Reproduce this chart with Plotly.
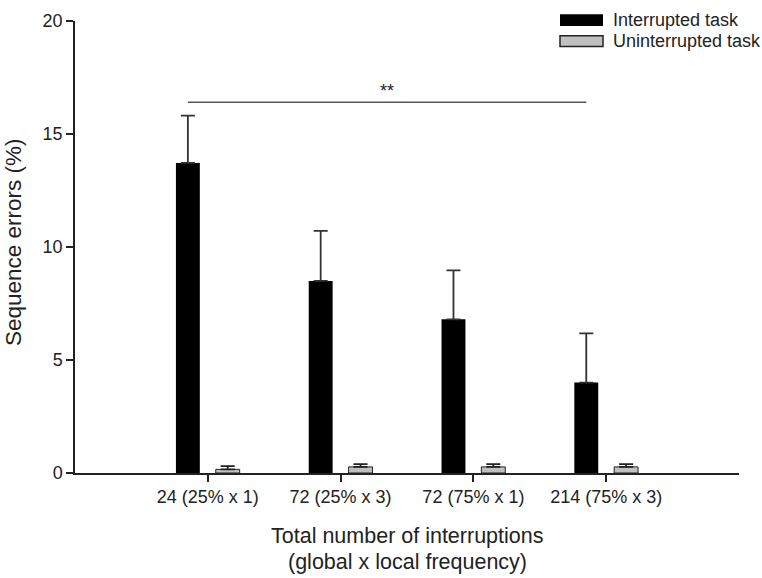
import plotly.graph_objects as go

# ---- data ----
categories = ["24 (25% x 1)", "72 (25% x 3)", "72 (75% x 1)", "214 (75% x 3)"]
interrupted = [13.72, 8.50, 6.80, 4.00]
interrupted_err = [2.09, 2.21, 2.17, 2.18]
uninterrupted = [0.16, 0.27, 0.27, 0.27]
uninterrupted_err = [0.14, 0.12, 0.12, 0.12]
series_names = ["Interrupted task", "Uninterrupted task"]
sig_pair = (0, 3)
sig_level = 16.4
sig_label = "**"

# ---- layout geometry ----
W, H = 762, 578
L, R, T, B = 75, 23, 11, 105
PW, PH = W - L - R, H - T - B
FONT = "Arial, Liberation Sans, sans-serif"

def px(x):
    return (x - L) / PW

def py(y):
    return (H - B - y) / PH

OFF = 0.15
BW = 0.18
idx = list(range(len(categories)))

fig = go.Figure()
fig.add_trace(go.Bar(
    x=[i - OFF for i in idx], y=interrupted, width=BW,
    name=series_names[0],
    marker=dict(color="black", line=dict(width=0)),
    error_y=dict(type="data", symmetric=False, array=interrupted_err,
                 arrayminus=[0] * len(idx), color="#333333",
                 thickness=1.8, width=7),
    showlegend=False,
))
fig.add_trace(go.Bar(
    x=[i + OFF for i in idx], y=uninterrupted, width=BW,
    name=series_names[1],
    marker=dict(color="#c0c0c0", line=dict(color="#222222", width=1)),
    error_y=dict(type="data", symmetric=False, array=uninterrupted_err,
                 arrayminus=[0] * len(idx), color="#222222",
                 thickness=1.8, width=7),
    showlegend=False,
))

# significance bracket
fig.add_shape(type="line", xref="x", yref="y",
              x0=sig_pair[0] - OFF, x1=sig_pair[1] - OFF,
              y0=sig_level, y1=sig_level,
              line=dict(color="#555555", width=1.5))
fig.add_annotation(x=((sig_pair[0] + sig_pair[1]) / 2) - OFF, y=sig_level,
                   xref="x", yref="y", text=sig_label, showarrow=False,
                   yanchor="bottom", yshift=-1,
                   font=dict(family=FONT, size=18, color="#222222"))

# custom legend
legend_rows = [(4, 16, "black", 0), (26, 37, "#c0c0c0", 1.5)]
for (y0, y1, col, lw), name in zip(legend_rows, series_names):
    fig.add_shape(type="rect", xref="paper", yref="paper",
                  x0=px(560), x1=px(603), y0=py(y1), y1=py(y0),
                  fillcolor=col, line=dict(color="#222222", width=lw))
    fig.add_annotation(xref="paper", yref="paper", x=px(611), y=py((y0 + y1) / 2),
                       text=name, showarrow=False, xanchor="left", yanchor="middle",
                       font=dict(family=FONT, size=18, color="#222222"))

# axis titles
fig.add_annotation(xref="paper", yref="paper", x=px(13), y=py(237),
                   text="Sequence errors (%)", textangle=-90, showarrow=False,
                   xanchor="center", yanchor="middle",
                   font=dict(family=FONT, size=22.5, color="#222222"))
fig.add_annotation(xref="paper", yref="paper", x=px(407), y=py(537),
                   text="Total number of interruptions", showarrow=False,
                   xanchor="center", yanchor="middle",
                   font=dict(family=FONT, size=21.5, color="#222222"))
fig.add_annotation(xref="paper", yref="paper", x=px(407), y=py(564),
                   text="(global x local frequency)", showarrow=False,
                   xanchor="center", yanchor="middle",
                   font=dict(family=FONT, size=21.5, color="#222222"))

fig.update_layout(
    width=W, height=H,
    margin=dict(l=L, r=R, t=T, b=B, pad=0),
    paper_bgcolor="white", plot_bgcolor="white",
    barmode="overlay",
    font=dict(family=FONT, size=18, color="#222222"),
    xaxis=dict(range=[-1, 4], tickvals=idx, ticktext=categories,
               showgrid=False, zeroline=False, showline=True,
               linecolor="#222222", linewidth=1.5,
               ticks="outside", ticklen=7, tickwidth=1.5, tickcolor="#222222",
               tickfont=dict(family=FONT, size=18, color="#222222")),
    yaxis=dict(range=[0, 20], tickvals=[0, 5, 10, 15, 20],
               showgrid=False, zeroline=False, showline=True,
               linecolor="#222222", linewidth=1.5,
               ticks="outside", ticklen=7, tickwidth=1.5, tickcolor="#222222",
               tickfont=dict(family=FONT, size=18, color="#222222")),
)

fig.write_html("out.html")
